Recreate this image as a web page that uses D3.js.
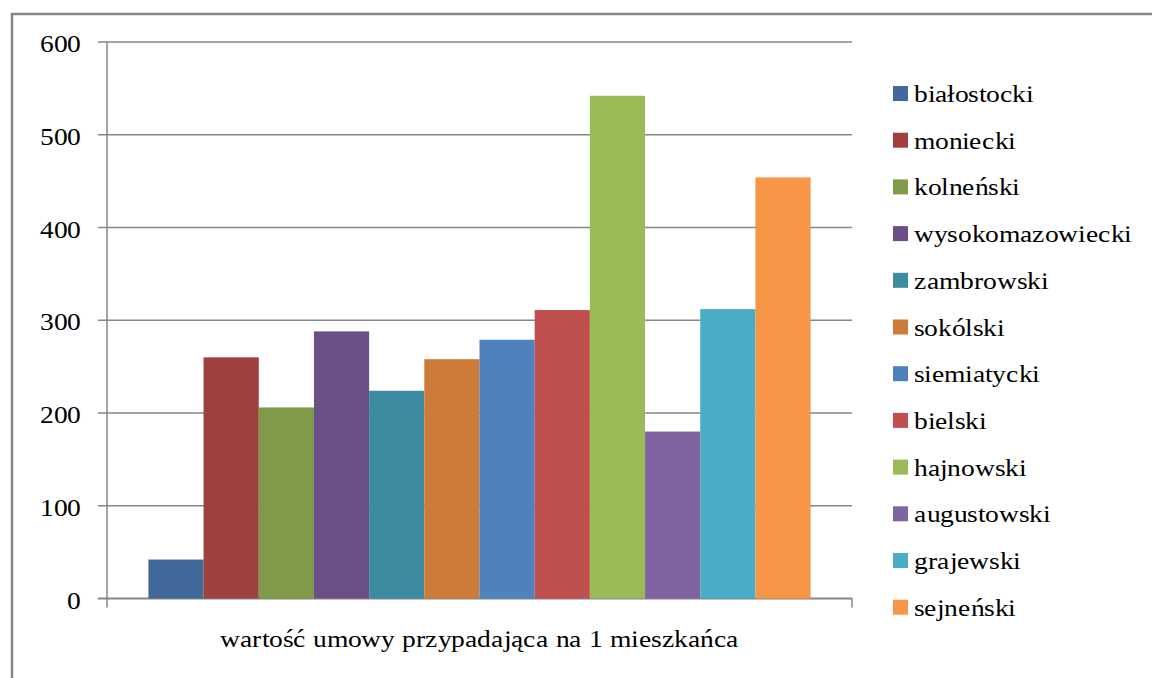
<!DOCTYPE html>
<html>
<head>
<meta charset="utf-8">
<script src="https://cdn.jsdelivr.net/npm/d3@7"></script>
<style>
  @font-face { font-family: "RefSerif"; src: local("Liberation Serif"), local("LiberationSerif"), local("Times New Roman"), local("Tinos"); }
  svg text { font-family: "RefSerif", "Liberation Serif", "Times New Roman", Tinos, serif !important; }
</style>
</head>
<body style="margin:0">
<script>
// powiaty and their values (wartosc umowy na 1 mieszkanca)
const powiaty = ['białostocki','moniecki','kolneński','wysokomazowiecki','zambrowski','sokólski',
    'siemiatycki','bielski','hajnowski','augustowski','grajewski','sejneński'];
const wartosci = [42, 260, 206, 288, 224, 258, 279, 311, 542, 180, 312, 454];
const kolory = ['#41699c','#9d403e','#7f9a48','#6a5087','#3c8ba1','#cc7b38',
    '#4f81bd','#c0504d','#9bbb59','#8064a2','#4bacc6','#f79646'];
const yTicks = [0, 100, 200, 300, 400, 500, 600];
const xTitle = 'wartość umowy przypadająca na 1 mieszkańca';

const fsize = 24.5;
const stretch = 'scale(1.1,1)'; // reference text is a bit wide
const dim = { width:1152, height:678 };
const plot = { left:107, right:852, top:42, bottom:598.5 };

const svg = d3.select('body')
    .append('svg')
    .attr('width',dim.width)
    .attr('height',dim.height);

// outer chart border (cut off at right/bottom)
svg.append('path')
    .attr('d',`M12,${dim.height+5} L12,14 L${dim.width+5},14`)
    .attr('fill','none')
    .attr('stroke','#868686')
    .attr('stroke-width',2.5);

const yScale = d3.scaleLinear()
    .domain([0,600])
    .range([plot.bottom,plot.top]);

const xScale = d3.scaleBand()
    .domain(powiaty)
    .range([plot.left,plot.right])
    .paddingInner(0)
    .paddingOuter(0.75);

// gridlines
svg.append('g').selectAll('line')
    .data(yTicks)
    .enter()
    .append('line')
    .attr('x1',plot.left-9).attr('x2',plot.right)
    .attr('y1',d=>yScale(d)).attr('y2',d=>yScale(d))
    .attr('stroke','#868686')
    .attr('stroke-width',d=>d===0?2:1.5);

// y labels
svg.append('g').selectAll('text')
    .data(yTicks)
    .enter()
    .append('text')
    .attr('transform',d=>`translate(${plot.left-26},${yScale(d)+10}) ${stretch}`)
    .attr('text-anchor','end')
    .attr('font-size',fsize)
    .attr('font-family','Liberation Serif')
    .text(d=>d);

// vertical axis line
svg.append('line')
    .attr('x1',plot.left).attr('x2',plot.left)
    .attr('y1',plot.top).attr('y2',plot.bottom+9)
    .attr('stroke','#868686').attr('stroke-width',1.5);

// bars
svg.append('g').selectAll('rect')
    .data(wartosci)
    .enter()
    .append('rect')
    .attr('x',(d,i)=>xScale(powiaty[i]))
    .attr('width',xScale.bandwidth())
    .attr('y',d=>yScale(d))
    .attr('height',d=>yScale(0)-yScale(d))
    .attr('fill',(d,i)=>kolory[i]);

// x axis right end tick
svg.append('line')
    .attr('x1',plot.right).attr('x2',plot.right)
    .attr('y1',yScale(0)).attr('y2',yScale(0)+9)
    .attr('stroke','#868686').attr('stroke-width',1.5);

svg.append('text')
    .attr('transform',`translate(${(plot.left+plot.right)/2},647) ${stretch}`)
    .attr('text-anchor','middle')
    .attr('font-size',fsize)
    .attr('font-family','Liberation Serif')
    .text(xTitle);

// legend
const legend = svg.append('g')
    .attr('transform','translate(893,86)');
const item = legend.selectAll('g')
    .data(powiaty)
    .enter()
    .append('g')
    .attr('transform',(d,i)=>`translate(0,${i*46.7})`);
item.append('rect')
    .attr('width',15)
    .attr('height',15)
    .attr('fill',(d,i)=>kolory[i]);
item.append('text')
    .attr('transform',`translate(21,16) ${stretch}`)
    .attr('font-size',fsize)
    .attr('font-family','Liberation Serif')
    .text(d=>d);
</script>
</body>
</html>
